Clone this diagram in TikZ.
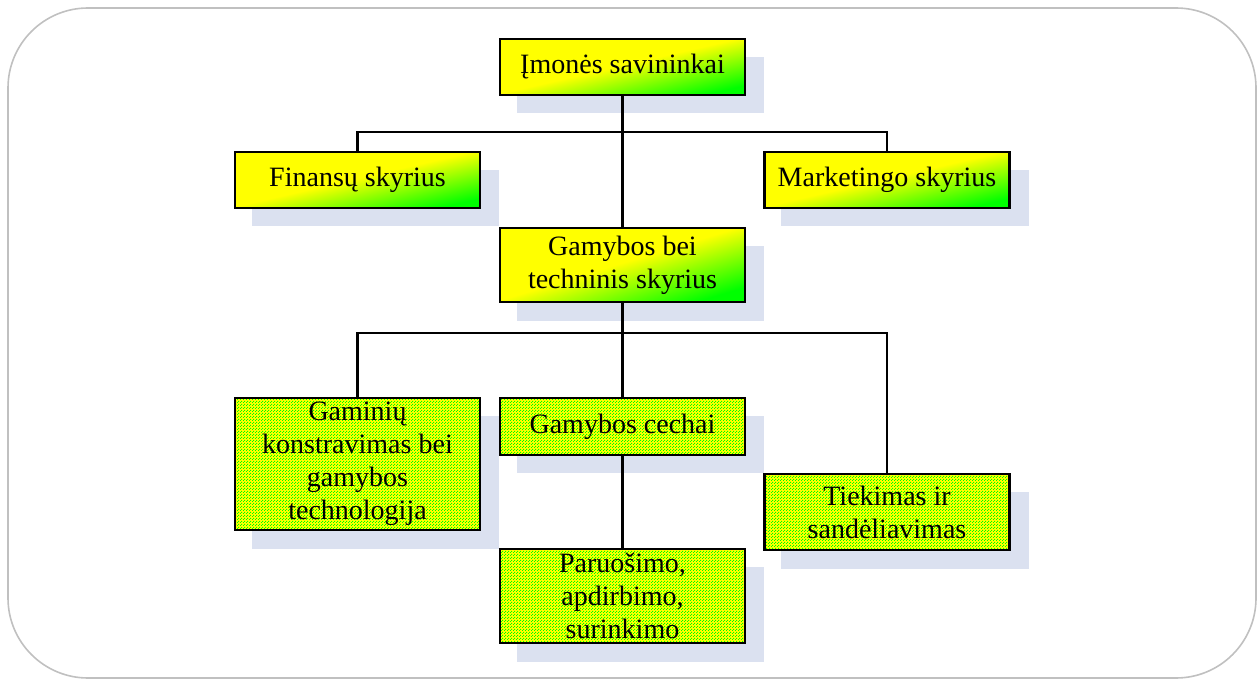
\documentclass[tikz,border=0pt]{standalone}
\usepackage{fontspec}
\setmainfont{Liberation Serif}
\usetikzlibrary{shadows,patterns}

\definecolor{shadowblue}{RGB}{219,225,240}
\definecolor{framegray}{RGB}{192,192,192}
\definecolor{ygreen}{RGB}{0,255,0}
\definecolor{yyellow}{RGB}{255,255,0}

% yellow-to-green ramp (visible range 25bp..75bp)
\pgfdeclarehorizontalshading{yellowgreen}{100bp}{%
  color(0bp)=(yyellow); color(49bp)=(yyellow); color(75bp)=(ygreen); color(100bp)=(ygreen)}

% fine grid of green dots for the lower boxes
\pgfdeclarepatternformonly{greendots}{\pgfqpoint{0pt}{0pt}}{\pgfqpoint{3pt}{3pt}}{\pgfqpoint{3pt}{3pt}}{%
  \pgfpathrectangle{\pgfqpoint{0pt}{0pt}}{\pgfqpoint{1.2pt}{1.2pt}}%
  \pgfpathrectangle{\pgfqpoint{1.5pt}{1.5pt}}{\pgfqpoint{1.2pt}{1.2pt}}%
  \pgfusepath{fill}}

\tikzset{
  orgbox/.style={draw=black, line width=2.6pt, minimum width=245pt, align=center,
    inner sep=2pt, font=\fontsize{28}{33}\selectfont,
    general shadow={fill=shadowblue, shadow xshift=18pt, shadow yshift=-18pt, shadow scale=1.01}},
  % ramp direction normal to the box's rising diagonal: angle = -atan(width/height)
  topbox/.style={orgbox, shading=yellowgreen, shading angle=#1},
  topbox/.default=-77,
  lowbox/.style={orgbox, preaction={fill=yyellow}, pattern=greendots, pattern color=ygreen},
  link/.style={line width=2.4pt, black}
}

\begin{document}
\begin{tikzpicture}[x=1pt,y=-1pt]
\useasboundingbox (0,0) rectangle (1258,679);
\draw[framegray, line width=1.6pt, rounded corners=80pt] (8,8) rectangle (1256,678);

% upper level
\node[topbox, minimum height=56pt] (own) at (622.5,67) {Įmonės savininkai};
\node[topbox, minimum height=56pt] (fin) at (357.5,180) {Finansų skyrius};
\node[topbox, minimum height=56pt] (mkt) at (887,180) {Marketingo skyrius};
\node[topbox=-73, minimum height=74pt] (prod) at (622.5,265) {Gamybos bei\\techninis skyrius};

% lower level
\node[lowbox, minimum height=132pt] (design) at (357.5,464) {Gaminių\\konstravimas bei\\gamybos\\technologija};
\node[lowbox, minimum height=57pt] (shops) at (622.5,426.5) {Gamybos cechai};
\node[lowbox, minimum height=76pt] (supply) at (887,512) {Tiekimas ir\\sandėliavimas};
\node[lowbox, minimum height=94pt] (prep) at (622.5,596) {Paruošimo,\\apdirbimo,\\surinkimo};

% connectors
\coordinate (j1) at (622.5,132);
\coordinate (j2) at (622.5,333);
\draw[link] (own.south) -- (prod.north);
\draw[link] (fin.north) |- (j1) -| (mkt.north);
\draw[link] (prod.south) -- (shops.north);
\draw[link] (design.north) |- (j2) -| (supply.north);
\draw[link] (shops.south) -- (prep.north);
\end{tikzpicture}
\end{document}
